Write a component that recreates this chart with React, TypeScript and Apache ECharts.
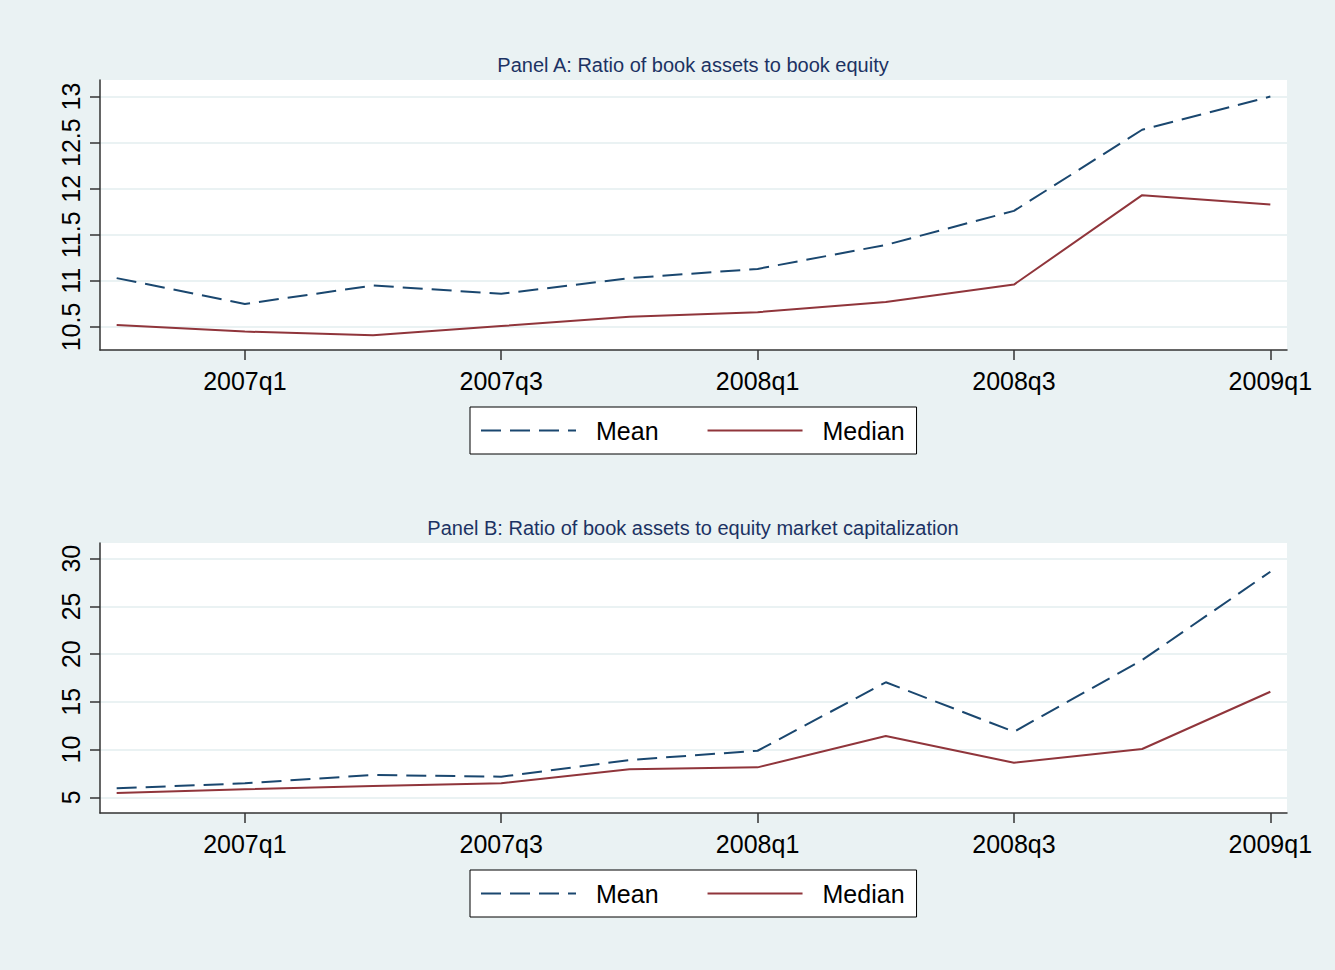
import React, { useEffect, useRef } from "react";
import * as echarts from "echarts";

const quarters = ["2006q4", "2007q1", "2007q2", "2007q3", "2007q4", "2008q1", "2008q2", "2008q3", "2008q4", "2009q1"];
const xTickIdx = [1, 3, 5, 7, 9];

const meanA = [11.03, 10.75, 10.95, 10.86, 11.03, 11.13, 11.39, 11.76, 12.64, 13.0];
const medianA = [10.52, 10.45, 10.41, 10.51, 10.61, 10.66, 10.77, 10.96, 11.93, 11.83];
const yTicksA = [10.5, 11, 11.5, 12, 12.5, 13];

const meanB = [5.94, 6.47, 7.34, 7.16, 8.91, 9.88, 17.05, 11.87, 19.38, 28.63];
const medianB = [5.45, 5.84, 6.18, 6.47, 7.93, 8.14, 11.42, 8.63, 10.06, 16.06];
const yTicksB = [5, 10, 15, 20, 25, 30];

const titleA = "Panel A: Ratio of book assets to book equity";
const titleB = "Panel B: Ratio of book assets to equity market capitalization";

const FONT = "'Liberation Sans', Arial, sans-serif";
const BG = "#EAF2F3";
const NAVY = "#1A476F";
const MAROON = "#90353B";

export default function App() {
  const ref = useRef<HTMLDivElement>(null);
  useEffect(() => {
    document.body.style.margin = "0";
    document.body.style.background = BG;
    const chart = echarts.init(ref.current!, null, { renderer: "svg" });
    const pairs = (arr: number[]) => arr.map((v, i) => [i, v]);
    const xAxis = (gi: number) => ({
      type: "value",
      gridIndex: gi,
      min: -0.13,
      max: 9.13,
      splitLine: { show: false },
      axisLine: { onZero: false, lineStyle: { color: "#333", width: 1.5 } },
      axisTick: { customValues: xTickIdx, length: 10, lineStyle: { color: "#333", width: 1.5 } },
      axisLabel: {
        customValues: xTickIdx,
        formatter: (v: number) => quarters[Math.round(v)],
        fontSize: 25,
        fontFamily: FONT,
        color: "#000",
        margin: 18,
      },
    });
    const yAxis = (gi: number, min: number, max: number, ticks: number[]) => ({
      type: "value",
      gridIndex: gi,
      min,
      max,
      axisLine: { show: true, onZero: false, lineStyle: { color: "#333", width: 1.5 } },
      axisTick: { show: true, customValues: ticks, length: 10, lineStyle: { color: "#333", width: 1.5 } },
      splitLine: { show: true, customValues: ticks, lineStyle: { color: BG, width: 2 } },
      axisLabel: {
        customValues: ticks,
        rotate: 90,
        fontSize: 25,
        fontFamily: FONT,
        color: "#000",
        margin: 17,
      },
    });
    const lineSeries = (name: string, data: number[], gi: number, dashed: boolean) => ({
      type: "line",
      name,
      xAxisIndex: gi,
      yAxisIndex: gi,
      data: pairs(data),
      symbol: "none",
      lineStyle: {
        color: dashed ? NAVY : MAROON,
        width: 2,
        type: dashed ? [20, 9] : "solid",
      },
      itemStyle: { color: dashed ? NAVY : MAROON },
    });
    const legend = (top: number) => ({
      left: 470,
      top,
      orient: "horizontal",
      data: ["Mean", "Median"],
      itemWidth: 95,
      itemHeight: 24,
      itemGap: 48,
      padding: [11, 12, 11, 10],
      borderColor: "#000",
      borderWidth: 1,
      backgroundColor: "#fff",
      selectedMode: false,
      itemStyle: { color: "rgba(0,0,0,0)", opacity: 0, borderWidth: 0 },
      textStyle: { fontSize: 25, fontFamily: FONT, color: "#000", padding: [0, 0, 0, 15] },
    });
    const titleStyle = { fontSize: 20, fontWeight: "normal", fontFamily: FONT, color: "#1c3263" };
    chart.setOption({
      animation: false,
      backgroundColor: BG,
      title: [
        { text: titleA, left: 688, textAlign: "center", top: 50, textStyle: titleStyle },
        { text: titleB, left: 688, textAlign: "center", top: 513, textStyle: titleStyle },
      ],
      grid: [
        { left: 100, top: 80, width: 1187, height: 270, show: true, backgroundColor: "#fff", borderWidth: 0 },
        { left: 100, top: 543, width: 1187, height: 270, show: true, backgroundColor: "#fff", borderWidth: 0 },
      ],
      xAxis: [xAxis(0), xAxis(1)],
      yAxis: [yAxis(0, 10.25, 13.18, yTicksA), yAxis(1, 3.36, 31.64, yTicksB)],
      legend: [legend(407), legend(870)],
      series: [
        lineSeries("Mean", meanA, 0, true),
        lineSeries("Median", medianA, 0, false),
        lineSeries("Mean", meanB, 1, true),
        lineSeries("Median", medianB, 1, false),
      ],
    });
    return () => chart.dispose();
  }, []);
  return <div ref={ref} style={{ width: 1335, height: 970 }} />;
}
